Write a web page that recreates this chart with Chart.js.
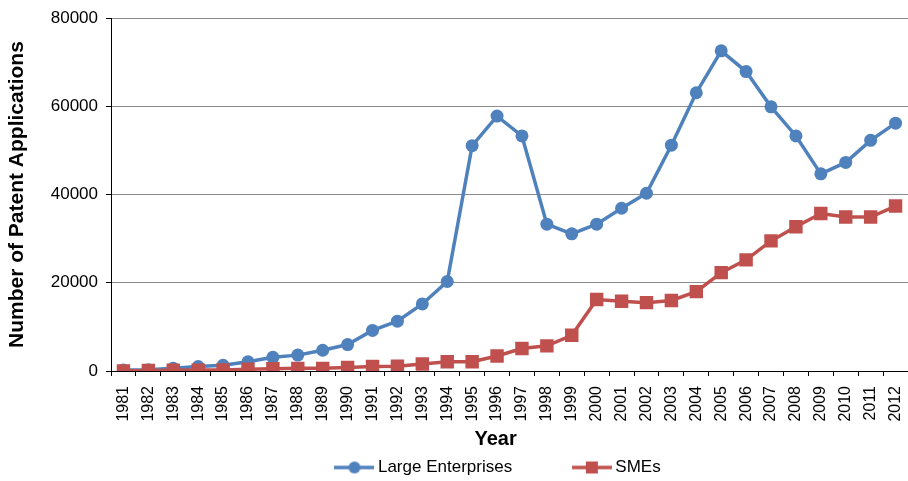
<!DOCTYPE html>
<html>
<head>
<meta charset="utf-8">
<script src="https://cdn.jsdelivr.net/npm/chart.js@4/dist/chart.umd.min.js"></script>
<style>
  body { margin: 0; background: #fff; }
  #wrap { width: 908px; height: 481px; }
</style>
</head>
<body>
<div id="wrap"><canvas id="myChart"></canvas></div>
<script>
var years = [];
for (var y = 1981; y <= 2012; y++) years.push(String(y));

var largeEnterprises = [200, 300, 600, 1000, 1300, 2100, 3100, 3600, 4700, 6000,
  9200, 11300, 15200, 20300, 51100, 57800, 53300, 33300, 31100, 33300,
  36900, 40300, 51200, 63100, 72600, 67900, 59900, 53300, 44700, 47300,
  52300, 56200];
var smes = [0, 100, 150, 200, 250, 400, 500, 600, 600, 800,
  1000, 1100, 1600, 2100, 2100, 3400, 5100, 5700, 8100, 16200,
  15800, 15500, 16000, 18000, 22300, 25200, 29500, 32700, 35700, 34900,
  34900, 37400];

var BLUE = "#4F81BD";
var RED = "#C0504D";
var FONT = "'Liberation Sans', Arial, sans-serif";
var NBSP = "\u00a0";

// little line-with-marker pictures for the legend
function legendIcon(color, shape) {
  var c = document.createElement("canvas");
  c.width = 40; c.height = 16;
  var ctx = c.getContext("2d");
  ctx.strokeStyle = color;
  ctx.lineWidth = 3.5;
  ctx.beginPath();
  ctx.moveTo(0, 8); ctx.lineTo(40, 8);
  ctx.stroke();
  ctx.fillStyle = color;
  if (shape === "circle") {
    ctx.beginPath();
    ctx.arc(20, 8, 6, 0, Math.PI * 2);
    ctx.fill();
  } else {
    ctx.fillRect(14, 2, 12, 12);
  }
  return c;
}
var icons = [legendIcon(BLUE, "circle"), legendIcon(RED, "rect")];

new Chart(document.getElementById("myChart"), {
  type: "line",
  data: {
    labels: years,
    datasets: [
      {
        label: "Large Enterprises",
        data: largeEnterprises,
        borderColor: BLUE,
        backgroundColor: BLUE,
        borderWidth: 3.5,
        pointStyle: "circle",
        pointRadius: 6.5,
        pointBorderWidth: 0,
        tension: 0,
        order: 1
      },
      {
        label: "SMEs",
        data: smes,
        borderColor: RED,
        backgroundColor: RED,
        borderWidth: 3.5,
        pointStyle: "rect",
        pointRadius: 9.5,
        pointBorderWidth: 0,
        tension: 0,
        order: 0
      }
    ]
  },
  options: {
    responsive: true,
    maintainAspectRatio: false,
    animation: false,
    layout: {
      autoPadding: false,
      padding: { top: 16, left: 0, right: 0, bottom: 0 }
    },
    plugins: {
      tooltip: { enabled: false },
      legend: {
        display: true,
        position: "bottom",
        fullSize: false,
        maxHeight: 30,
        labels: {
          usePointStyle: true,
          pointStyleWidth: 30,
          padding: 8,
          color: "#000",
          font: { family: FONT, size: 17 },
          generateLabels: function (chart) {
            var items = Chart.defaults.plugins.legend.labels.generateLabels(chart);
            items.sort(function (a, b) { return a.datasetIndex - b.datasetIndex; });
            items.forEach(function (it) {
              it.pointStyle = icons[it.datasetIndex];
              // trailing blanks widen the gap between entries / nudge the row left
              it.text += NBSP.repeat(it.datasetIndex === 0 ? 12 : 4);
            });
            return items;
          }
        }
      }
    },
    scales: {
      x: {
        offset: true,
        afterFit: function (scale) {
          scale.height = 80;
          scale.paddingRight = 0;
        },
        grid: {
          offset: true,
          drawOnChartArea: false,
          tickLength: 5,
          color: "#000"
        },
        border: { color: "#000", width: 1 },
        ticks: {
          autoSkip: false,
          minRotation: 90,
          maxRotation: 90,
          padding: 10,
          color: "#000",
          font: { family: FONT, size: 16 }
        },
        title: {
          display: true,
          text: "Year" + NBSP.repeat(5),
          color: "#000",
          padding: { top: 0, bottom: 0 },
          font: { family: FONT, size: 20, weight: "bold" }
        }
      },
      y: {
        min: 0,
        max: 80000,
        afterFit: function (scale) { scale.width = 111; },
        grid: {
          color: "#8c8c8c",
          lineWidth: 1,
          tickLength: 5,
          tickColor: "#000"
        },
        border: { color: "#000", width: 1 },
        ticks: {
          stepSize: 20000,
          padding: 8,
          color: "#000",
          font: { family: FONT, size: 17 },
          callback: function (v) { return String(v); }
        },
        title: {
          display: true,
          text: "Number of Patent Applications",
          color: "#000",
          padding: { top: 5, bottom: 0 },
          font: { family: FONT, size: 21, weight: "bold" }
        }
      }
    }
  }
});
</script>
</body>
</html>
